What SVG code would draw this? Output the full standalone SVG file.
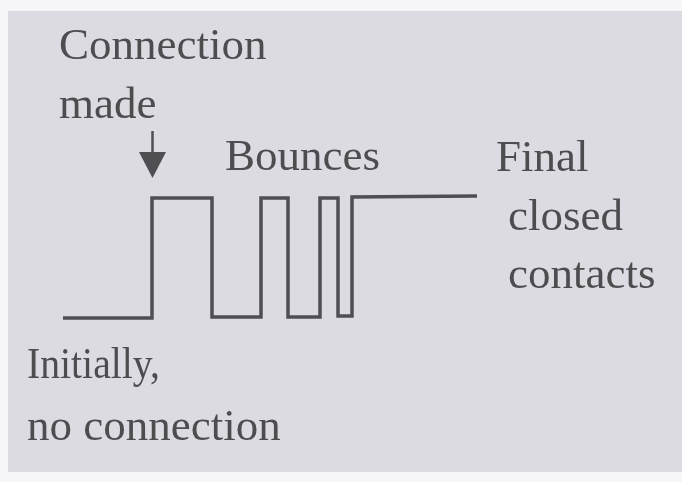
<svg xmlns="http://www.w3.org/2000/svg" width="682" height="482" viewBox="0 0 682 482">
  <style>
    .lbl { font-family: "Liberation Serif", "Times New Roman", serif; font-size: 45px; fill: #4d4d50; }
    .wave { fill: none; stroke: #4f4f52; stroke-width: 3.5; stroke-linejoin: miter; }
  </style>
  <defs>
    <filter id="soft" x="-5%" y="-5%" width="110%" height="110%">
      <feGaussianBlur stdDeviation="0.6"/>
    </filter>
  </defs>

  <!-- paper -->
  <rect x="0" y="0" width="682" height="482" fill="#f7f7f9"/>
  <rect x="8" y="11" width="674" height="461" fill="#dcdbe1"/>

  <g filter="url(#soft)">
    <!-- contact signal: open, closes, bounces, settles closed -->
    <g id="connectors">
      <polyline class="wave" points="63,318 152,318 152,198 212,198 212,317 261,317 261,198 288,198 288,317 320,317 320,198 338,198 338,316 352,316 352,197 477,196"/>
      <!-- pointer to the moment contact is made -->
      <line x1="152.5" y1="131" x2="152.5" y2="154" stroke="#4f4f52" stroke-width="2.5"/>
      <polygon points="139,152 166,152 152.5,178" fill="#4f4f52"/>
    </g>

    <g id="label-connection-made">
      <text class="lbl" x="59" y="59">Connection</text>
      <text class="lbl" x="59" y="118">made</text>
    </g>

    <g id="label-bounces">
      <text class="lbl" x="225" y="170">Bounces</text>
    </g>

    <g id="label-final">
      <text class="lbl" x="496" y="171">Final</text>
      <text class="lbl" x="508" y="230">closed</text>
      <text class="lbl" x="508" y="288">contacts</text>
    </g>

    <g id="label-initially">
      <text class="lbl" x="27" y="378" textLength="133" lengthAdjust="spacingAndGlyphs">Initially,</text>
      <text class="lbl" x="27" y="440">no connection</text>
    </g>
  </g>
</svg>
